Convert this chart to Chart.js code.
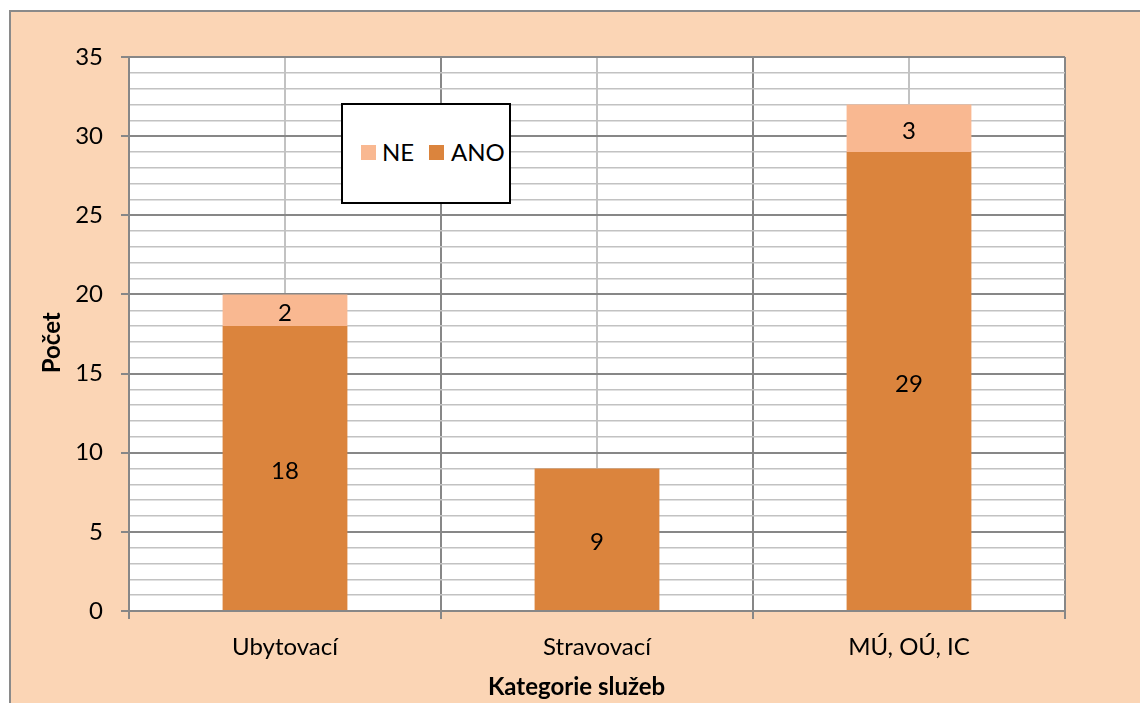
<!DOCTYPE html>
<html><head><meta charset="utf-8">
<script src="https://cdn.jsdelivr.net/npm/chart.js@4/dist/chart.umd.min.js"></script>
<style>
html,body{margin:0;padding:0;background:#fff;width:1140px;height:703px;overflow:hidden;}
#frame{position:absolute;left:9px;top:10px;width:1140px;height:703px;background:#FBD5B5;border-left:2px solid #8a8a8a;border-top:2px solid #8a8a8a;}
#c{position:absolute;left:0;top:0;}
#legend{position:absolute;left:341px;top:103px;width:166px;height:97px;border:2px solid #000;background:#fff;font-family:Lato,sans-serif;font-size:24px;color:#000;}
#legend .sw{position:absolute;width:15px;height:15px;}
#legend .tx{position:absolute;line-height:24px;}
</style></head>
<body>
<div id="frame"></div>
<canvas id="c" width="1140" height="703"></canvas>
<div id="legend"></div>
<script>
const categories = ['Ubytovací', 'Stravovací', 'MÚ, OÚ, IC'];
const anoValues = [18, 9, 29];
const neValues = [2, 0, 3];
const anoLabel = 'ANO';
const neLabel = 'NE';
const anoColor = '#DB843D';
const neColor = '#F9B891';
const yMin = 0, yMax = 35, yMajor = 5;
const xTitle = 'Kategorie služeb';
const yTitle = 'Počet';

const FONT = 'Lato';
const GRID_DARK = '#878787';
const GRID_LIGHT = '#c2c2c2';

const bgPlugin = {
  id: 'bg',
  beforeDraw(chart) {
    const {ctx, chartArea: a, scales} = chart;
    ctx.save();
    ctx.fillStyle = '#fff';
    ctx.fillRect(a.left, a.top, a.right - a.left, a.bottom - a.top);
    ctx.strokeStyle = GRID_LIGHT;
    ctx.lineWidth = 2;
    categories.forEach((c, i) => {
      const x = Math.round(scales.x.getPixelForValue(i));
      ctx.beginPath();
      ctx.moveTo(x, a.top);
      ctx.lineTo(x, a.bottom);
      ctx.stroke();
    });
    ctx.restore();
  }
};

const labelPlugin = {
  id: 'vals',
  afterDatasetsDraw(chart) {
    const {ctx} = chart;
    ctx.save();
    ctx.font = '24px ' + FONT;
    ctx.fillStyle = '#000';
    ctx.textAlign = 'center';
    ctx.textBaseline = 'middle';
    chart.data.datasets.forEach((ds, i) => {
      const meta = chart.getDatasetMeta(i);
      meta.data.forEach((bar, j) => {
        const v = ds.data[j];
        if (!v) return;
        const p = bar.getProps(['x', 'y', 'base'], true);
        ctx.fillText(String(v), p.x, (p.y + p.base) / 2 + 3);
      });
    });
    ctx.restore();
  }
};

const isMajor = ctx => ctx.tick && ctx.tick.value % yMajor === 0;

const chart = new Chart(document.getElementById('c'), {
  type: 'bar',
  data: {
    labels: categories,
    datasets: [
      {label: anoLabel, data: anoValues, backgroundColor: anoColor, borderWidth: 0, barPercentage: 0.4, categoryPercentage: 1},
      {label: neLabel, data: neValues, backgroundColor: neColor, borderWidth: 0, barPercentage: 0.4, categoryPercentage: 1}
    ]
  },
  options: {
    responsive: false,
    animation: false,
    devicePixelRatio: 1,
    layout: {padding: {left: 34, top: 57, right: 75, bottom: 0}},
    plugins: {legend: {display: false}, tooltip: {enabled: false}},
    scales: {
      x: {
        stacked: true,
        offset: true,
        grid: {offset: true, color: GRID_DARK, lineWidth: 2, tickLength: 8},
        border: {color: GRID_DARK, width: 2},
        ticks: {font: {family: FONT, size: 24}, color: '#000', padding: 14},
        title: {display: true, text: xTitle + '       ', color: '#000', font: {family: FONT, size: 24, weight: 'bold'}, padding: {top: 0, bottom: 1}},
        afterFit(s) { s.height = 92; }
      },
      y: {
        stacked: true,
        min: yMin, max: yMax,
        ticks: {stepSize: 1, autoSkip: false, font: {family: FONT, size: 24}, color: '#000', padding: 18,
          callback: v => (v % yMajor === 0 ? String(v) : '')},
        grid: {
          color: c => isMajor(c) ? GRID_DARK : GRID_LIGHT,
          lineWidth: c => isMajor(c) ? 2 : 1.5,
          tickLength: 8,
          tickColor: c => isMajor(c) ? GRID_DARK : 'rgba(0,0,0,0)'
        },
        border: {color: GRID_DARK, width: 2},
        title: {display: true, text: yTitle + '   ', color: '#000', font: {family: FONT, size: 24, weight: 'bold'}, padding: {top: 4, bottom: 4}},
        afterFit(s) { s.width = 95; }
      }
    }
  },
  plugins: [bgPlugin, labelPlugin]
});

// legend built from the chart's datasets (reverse order: NE, ANO)
const lg = document.getElementById('legend');
const items = chart.data.datasets.slice().reverse();
const pos = [{sw: 18, tx: 39}, {sw: 86, tx: 108}];
items.forEach((ds, i) => {
  const sw = document.createElement('div');
  sw.className = 'sw';
  sw.style.left = pos[i].sw + 'px';
  sw.style.top = '40px';
  sw.style.background = ds.backgroundColor;
  const tx = document.createElement('div');
  tx.className = 'tx';
  tx.style.left = pos[i].tx + 'px';
  tx.style.top = '35px';
  tx.textContent = ds.label;
  lg.appendChild(sw); lg.appendChild(tx);
});
</script>
</body></html>
